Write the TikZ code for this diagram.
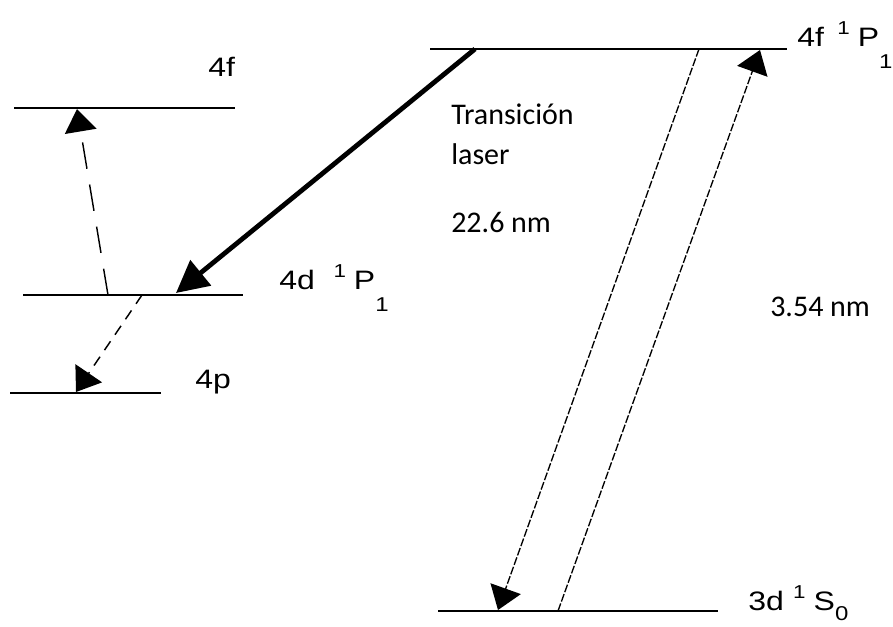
\documentclass[tikz,border=0pt]{standalone}
\usepackage{fontspec}
\setmainfont{Carlito}
\newfontfamily\lvlfont[FakeStretch=1.2]{Liberation Sans}
\usetikzlibrary{arrows.meta}
\newcommand{\lvlterm}[4]{\raisebox{9pt}{\fontsize{14}{14}\selectfont #1}\hspace{6pt}#2\raisebox{#4}{\fontsize{15}{15}\selectfont #3}}

\begin{document}
\begin{tikzpicture}[x=0.75pt, y=-0.75pt,
    level/.style={line width=1.1pt},
    lbl/.style={anchor=base west, inner sep=0pt, font=\lvlfont\fontsize{20}{24}\selectfont},
    txt/.style={anchor=base west, inner sep=0pt, font=\fontsize{22.5}{27}\selectfont},
    tip/.style={-{Triangle[length=17pt,width=24pt]}},
    fine/.style={line width=1pt, dash pattern=on 6pt off 1.5pt, tip}]
  \useasboundingbox (0,0) rectangle (893,627);
  % levels, left
  \draw[level] (14,108) -- (235,108);
  \draw[level] (23,295) -- (243,295);
  \draw[level] (10,393) -- (161,393);
  % levels, right
  \draw[level] (430,49) -- (787,49);
  \draw[level] (438,611) -- (718,611);
  % end points of the transitions
  \coordinate (u4f) at (77,109);
  \coordinate (d4f) at (108,295);
  \coordinate (d4p) at (142,295);
  \coordinate (u4p) at (76,392);
  \coordinate (up1) at (475,49);
  \coordinate (dn1) at (176,293);
  \coordinate (up2) at (699,49);
  \coordinate (dn2) at (498,610);
  \coordinate (dn3) at (558,611);
  \coordinate (up3) at (760,50);
  % transitions
  \draw[tip, line width=1.1pt, dash pattern=on 20pt off 12pt] (d4f) -- (u4f);
  \draw[tip, line width=1.1pt, dash pattern=on 8pt off 6pt] (d4p) -- (u4p);
  \draw[-{Triangle[length=24pt,width=24pt]}, line width=3.6pt] (up1) -- (dn1);
  \draw[fine] (up2) -- (dn2);
  \draw[fine] (dn3) -- (up3);
  % level names
  \node[lbl] (n4f) at (208,77) {4f};
  \node[lbl] (n4d) at (279,290) {4d\hspace{14pt}\lvlterm{1}{P}{1}{-16pt}};
  \node[lbl] (n4p) at (195,388) {4p};
  \node[lbl] (n4fp) at (797,47) {4f\hspace{10pt}\lvlterm{1}{P}{1}{-16pt}};
  \node[lbl] (n3d) at (748,610) {3d\hspace{7pt}\lvlterm{1}{S}{0}{-8pt}};
  % transition texts
  \node[txt] (trans) at (451,125) {Transición};
  \node[txt] (laser) at (451,165) {laser};
  \node[txt] (wl1) at (451,233) {22.6 nm};
  \node[txt] (wl2) at (770,317) {3.54 nm};
\end{tikzpicture}
\end{document}
